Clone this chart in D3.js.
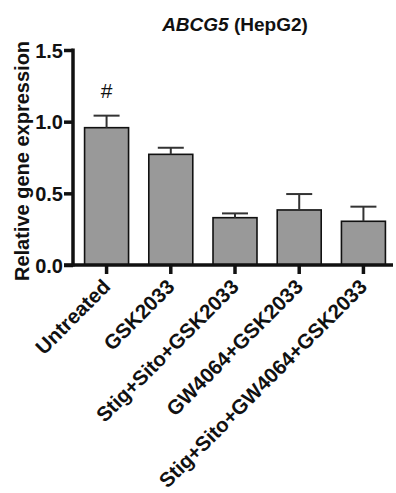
<!DOCTYPE html>
<html lang="en">
<head>
<meta charset="utf-8">
<style>
body {
  margin: 0;
  background: #fff;
  font-family: "Liberation Sans", Arial, sans-serif;
}
svg text {
  font-weight: bold;
  fill: #111;
}
</style>
</head>
<body>
<script src="https://cdn.jsdelivr.net/npm/d3@7/dist/d3.min.js"></script>
<script>

var width = 396,
    height = 493;

var groups = ["Untreated", "GSK2033", "Stig+Sito+GSK2033", "GW4064+GSK2033", "Stig+Sito+GW4064+GSK2033"];
var means = [0.958, 0.772, 0.330, 0.384, 0.305];
var errs = [0.084, 0.046, 0.030, 0.111, 0.102];
var marks = ["#", "", "", "", ""];
var yTicks = [0, 0.5, 1.0, 1.5];

var x = d3.scaleBand()
    .domain(groups)
    .range([74.5, 395.5])
    .paddingInner(0.315)
    .paddingOuter(0.157);

var y = d3.scaleLinear()
    .domain([0, 1.5])
    .range([265, 50]);

var svg = d3.select("body").append("svg")
    .attr("width", width)
    .attr("height", height);

// title
var title = svg.append("text")
    .attr("x", 235)
    .attr("y", 31)
    .attr("text-anchor", "middle")
    .style("font-size", "19px");
title.append("tspan").style("font-style", "italic").text("ABCG5");
title.append("tspan").text(" (HepG2)");

// bars
svg.selectAll("rect.bar")
    .data(means)
    .enter().append("rect")
    .attr("class", "bar")
    .attr("x", function(d, i) { return x(groups[i]); })
    .attr("y", function(d) { return y(d); })
    .attr("width", x.bandwidth())
    .attr("height", function(d) { return y(0) - y(d); })
    .attr("fill", "#999999")
    .attr("stroke", "#111")
    .attr("stroke-width", 1.6);

// error bars (upper only)
var eb = svg.selectAll("g.err")
    .data(means)
    .enter().append("g")
    .attr("class", "err")
    .attr("stroke", "#333")
    .attr("stroke-width", 2);

eb.append("line")
    .attr("x1", function(d, i) { return x(groups[i]) + x.bandwidth() / 2; })
    .attr("x2", function(d, i) { return x(groups[i]) + x.bandwidth() / 2; })
    .attr("y1", function(d) { return y(d); })
    .attr("y2", function(d, i) { return y(d + errs[i]); });

eb.append("line")
    .attr("x1", function(d, i) { return x(groups[i]) + x.bandwidth() / 2 - 13; })
    .attr("x2", function(d, i) { return x(groups[i]) + x.bandwidth() / 2 + 13; })
    .attr("y1", function(d, i) { return y(d + errs[i]); })
    .attr("y2", function(d, i) { return y(d + errs[i]); });

// significance marks
svg.selectAll("text.mark")
    .data(marks)
    .enter().append("text")
    .attr("class", "mark")
    .attr("x", function(d, i) { return x(groups[i]) + x.bandwidth() / 2; })
    .attr("y", 98)
    .attr("text-anchor", "middle")
    .style("font-size", "21px")
    .style("font-weight", "normal")
    .text(function(d) { return d; });

// y axis
var yAxis = svg.append("g")
    .attr("transform", "translate(73,0)")
    .call(d3.axisLeft(y).tickValues(yTicks).tickFormat(d3.format(".1f")).tickSize(9).tickSizeOuter(0));
yAxis.select(".domain").attr("stroke", "#111").attr("stroke-width", 3.5)
    .attr("d", "M0," + (y(1.5) - 1.5) + "V" + (y(0) + 1.5));
yAxis.selectAll(".tick line").attr("stroke", "#111").attr("stroke-width", 3.5);
yAxis.selectAll(".tick text")
    .attr("x", -10)
    .attr("dy", "0.36em")
    .style("font-size", "20px")
    .style("font-family", "'Liberation Sans', Arial, sans-serif");

// x axis
var xAxis = svg.append("g")
    .attr("transform", "translate(0," + y(0) + ")")
    .call(d3.axisBottom(x).tickSize(9).tickSizeOuter(0));
xAxis.select(".domain").attr("stroke", "#111").attr("stroke-width", 3.5)
    .attr("d", "M64,0H393");
xAxis.selectAll(".tick line").attr("stroke", "#111").attr("stroke-width", 3.5);
xAxis.selectAll(".tick text")
    .attr("y", 0)
    .attr("dy", 0)
    .attr("text-anchor", "end")
    .attr("transform", "translate(5,23) rotate(-45)")
    .style("font-size", "20.5px")
    .style("font-family", "'Liberation Sans', Arial, sans-serif");

// y label
svg.append("text")
    .attr("transform", "translate(29," + 161 + ") rotate(-90)")
    .attr("text-anchor", "middle")
    .style("font-size", "20px")
    .text("Relative gene expression");

</script>
</body>
</html>
